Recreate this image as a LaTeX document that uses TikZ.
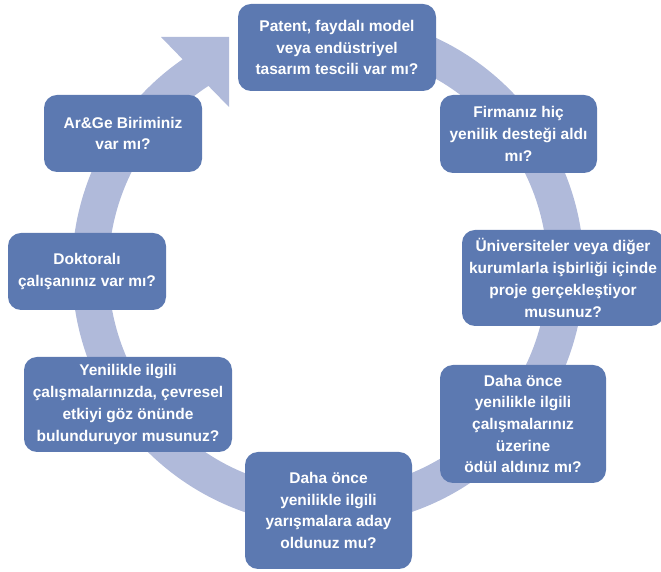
\documentclass[tikz,border=0pt]{standalone}
\usepackage{fontspec}
\setmainfont{Liberation Sans}
\definecolor{boxc}{RGB}{92,121,177}
\definecolor{ringc}{RGB}{176,186,218}
\tikzset{
  qbox/.style={fill=boxc, rounded corners=13pt, text=white, align=center,
    inner sep=0pt, font=\fontsize{15.5}{21.7}\selectfont\bfseries},
}
\begin{document}
\begin{tikzpicture}[x=1pt,y=1pt]
\useasboundingbox (0,0) rectangle (661,572);
% ring arrow
\coordinate (c) at (328,302);
\coordinate (w1) at (161,535);
\coordinate (tip) at (229,535);
\coordinate (w2) at (229,465);
\fill[ringc] ([shift={(c)}]100:256pt)
  arc[start angle=100, end angle=-235.4, radius=256pt]
  -- (w1) -- (tip) -- (w2)
  -- ([shift={(c)}]-237:219.5pt)
  arc[start angle=-237, end angle=100, radius=219.5pt] -- cycle;
% boxes
\node[qbox, minimum width=198pt, minimum height=87pt] (n1) at (337,524.5)
  {Patent, faydalı model\\veya endüstriyel\\tasarım tescili var mı?};
\node[qbox, minimum width=157pt, minimum height=78pt] (n2) at (518.5,438)
  {Firmanız hiç\\yenilik desteği aldı\\mı?};
\node[qbox, minimum width=202pt, minimum height=96pt] (n3) at (563,294)
  {Üniversiteler veya diğer\\kurumlarla işbirliği içinde\\proje gerçekleştiyor\\musunuz?};
\node[qbox, minimum width=166pt, minimum height=118pt] (n4) at (523,148)
  {Daha önce\\yenilikle ilgili\\çalışmalarınız\\üzerine\\ödül aldınız mı?};
\node[qbox, minimum width=167pt, minimum height=117pt] (n5) at (328.5,61.5)
  {Daha önce\\yenilikle ilgili\\yarışmalara aday\\oldunuz mu?};
\node[qbox, minimum width=208pt, minimum height=95pt] (n6) at (128,167.5)
  {Yenilikle ilgili\\çalışmalarınızda, çevresel\\etkiyi göz önünde\\bulunduruyor musunuz?};
\node[qbox, minimum width=158pt, minimum height=77pt] (n7) at (87,300.5)
  {Doktoralı\\çalışanınız var mı?};
\node[qbox, minimum width=158pt, minimum height=77pt] (n8) at (123,438.5)
  {Ar\&Ge Biriminiz\\var mı?};
\end{tikzpicture}
\end{document}
